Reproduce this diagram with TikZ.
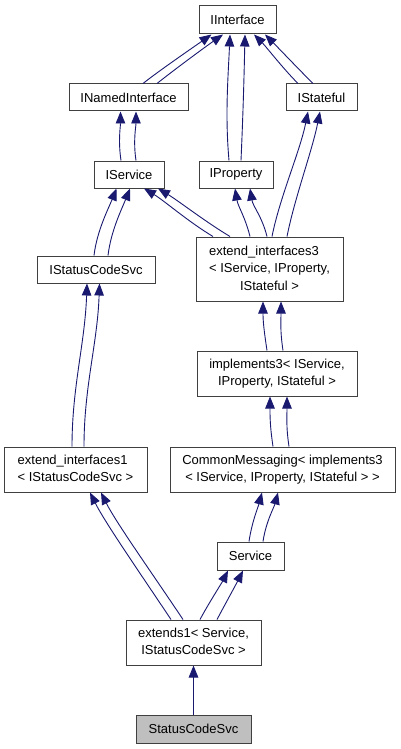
\documentclass[tikz,border=0pt]{standalone}
\usepackage{fontspec}
\setmainfont{Liberation Sans}
\usetikzlibrary{arrows.meta}
\definecolor{edgeblue}{RGB}{25,25,112}
\definecolor{boxline}{RGB}{64,64,64}
\newcommand{\lastline}[1]{\multicolumn{1}{@{}c@{}}{#1}}

\begin{document}
\begin{tikzpicture}[x=1pt, y=-1pt,
	cls/.style={draw=boxline, line width=1pt, fill=white, inner sep=0pt, minimum height=27, font=\fontsize{13}{17.5}\selectfont},
	inh/.style={draw=edgeblue, line width=0.9pt, -{Triangle[length=12pt,width=9.5pt]}}]
	\useasboundingbox (0,0) rectangle (400,749);
	% classes
	\node[cls, minimum width=77, minimum height=28] (iface) at (237.5,20) {IInterface};
	\node[cls, minimum width=119] (named) at (128.5,97.5) {INamedInterface};
	\node[cls, minimum width=71] (stateful) at (321.5,97.5) {IStateful};
	\node[cls, minimum width=70] (iservice) at (129,174.5) {IService};
	\node[cls, minimum width=74] (iprop) at (236,174.5) {IProperty};
	\node[cls, minimum width=118] (iscs) at (96,269.5) {IStatusCodeSvc};
	\node[cls, minimum width=147, minimum height=64] (ext3) at (269.5,269) {\begin{tabular}{@{}l@{}}extend\_interfaces3\\< IService, IProperty,\\\lastline{IStateful >}\end{tabular}};
	\node[cls, minimum width=160, minimum height=45] (impl3) at (277,373.5) {\begin{tabular}{@{}l@{}}implements3< IService,\\\lastline{IProperty, IStateful >}\end{tabular}};
	\node[cls, minimum width=143, minimum height=45] (ext1) at (75.5,469.5) {\begin{tabular}{@{}l@{}}extend\_interfaces1\\\lastline{< IStatusCodeSvc >}\end{tabular}};
	\node[cls, minimum width=225, minimum height=45] (cmsg) at (282.5,469.5) {\begin{tabular}{@{}l@{}}CommonMessaging< implements3\\\lastline{< IService, IProperty, IStateful > >}\end{tabular}};
	\node[cls, minimum width=67, minimum height=28] (service) at (250.5,556) {Service};
	\node[cls, minimum width=135, minimum height=45] (extends) at (193.5,642.5) {\begin{tabular}{@{}l@{}}extends1< Service,\\\lastline{IStatusCodeSvc >}\end{tabular}};
	\node[cls, minimum width=115, minimum height=28, fill=black!25] (scs) at (193.5,729) {StatusCodeSvc};
	% inheritance
	\foreach \s/\t in {14.5/-26, 28.5/-14.5}
		\draw[inh] ([xshift=\s]named.north) .. controls +(15,-12) and +(-20,14) .. ([xshift=\t]iface.south);
	\draw[inh] ([xshift=-7]iprop.north) .. controls +(-4,-45) and +(-2,45) .. ([xshift=-7.5]iface.south);
	\draw[inh] ([xshift=5]iprop.north) .. controls +(2,-45) and +(-1,45) .. ([xshift=7.5]iface.south);
	\foreach \s/\t in {-23.5/16.5, -8.5/27.5}
		\draw[inh] ([xshift=\s]stateful.north) .. controls +(-15,-15) and +(12,12) .. ([xshift=\t]iface.south);
	\foreach \s/\t in {-8/-8, 7/7.5}
		\draw[inh] ([xshift=\s]iservice.north) .. controls +(-3,-20) and +(0,15) .. ([xshift=\t]named.south);
	\foreach \s/\t in {-2/-12.5, 12/1}
		\draw[inh] ([xshift=\s]iscs.north) .. controls +(3,-25) and +(-8,20) .. ([xshift=\t]iservice.south);
	\foreach \s/\t in {-56.5/15, -39.5/29}
		\draw[inh] ([xshift=\s]ext3.north) .. controls +(-25,-15) and +(20,12) .. ([xshift=\t]iservice.south);
	\foreach \s/\t in {-19.5/-1, -2.5/14}
		\draw[inh] ([xshift=\s]ext3.north) .. controls +(-5,-20) and +(3,18) .. ([xshift=\t]iprop.south);
	\foreach \s/\t in {2.5/-13.5, 17.5/-1.5}
		\draw[inh] ([xshift=\s]ext3.north) .. controls +(8,-40) and +(-8,40) .. ([xshift=\t]stateful.south);
	\foreach \s/\t in {-3.5/-9, 8.5/3.5}
		\draw[inh] ([xshift=\s]ext1.north) .. controls +(0,-60) and +(-2,60) .. ([xshift=\t]iscs.south);
	\foreach \s/\t in {-10/-6.5, 6/11.5}
		\draw[inh] ([xshift=\s]impl3.north) .. controls +(-3,-20) and +(0,20) .. ([xshift=\t]ext3.south);
	\foreach \s/\t in {-9.5/-7, 6.5/10}
		\draw[inh] ([xshift=\s]cmsg.north) .. controls +(-3,-20) and +(0,20) .. ([xshift=\t]impl3.south);
	\foreach \s/\t in {-1.5/-20.5, 12.5/-4.5}
		\draw[inh] ([xshift=\s]service.north) .. controls +(3,-20) and +(-4,15) .. ([xshift=\t]cmsg.south);
	\foreach \s/\t in {-22.5/14.5, -10.5/25.5}
		\draw[inh] ([xshift=\s]extends.north) .. controls +(-30,-45) and +(15,30) .. ([xshift=\t]ext1.south);
	\foreach \s/\t in {6.5/-22.5, 23.5/-7.5}
		\draw[inh] ([xshift=\s]extends.north) .. controls +(8,-15) and +(-6,12) .. ([xshift=\t]service.south);
	\draw[inh] (scs.north) -- (extends.south);
\end{tikzpicture}
\end{document}
